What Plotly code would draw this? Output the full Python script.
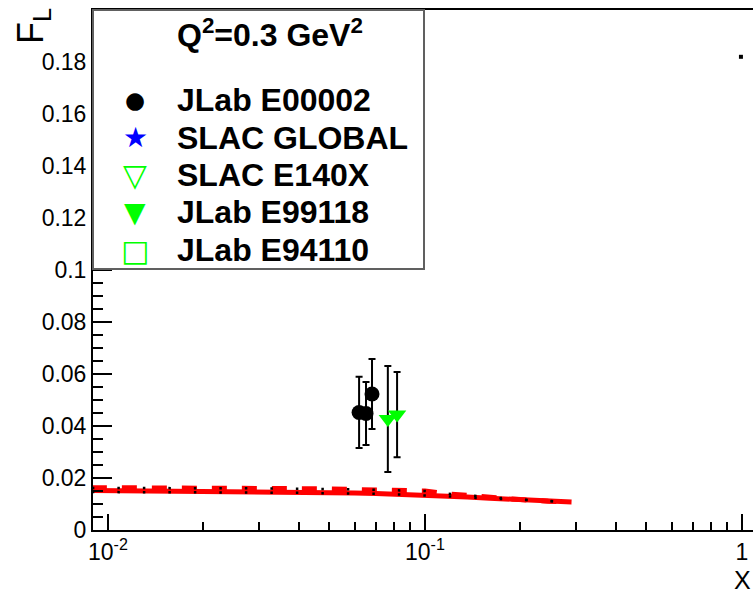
import plotly.graph_objects as go

# ---------------- data ----------------
# JLab E00002 (black filled circles)
e00002_x = [0.0620, 0.0652, 0.0681]
e00002_y = [0.0452, 0.0448, 0.0523]
e00002_err = [0.0137, 0.0121, 0.0135]

# JLab E99118 (green filled down-triangles)
e99118_x = [0.0764, 0.0817]
e99118_y = [0.0427, 0.0444]
e99118_err = [0.0204, 0.0164]

# stray tiny point near x=1
stray_x = [0.993]
stray_y = [0.182]

# model curves
curve_x = [0.0089, 0.012, 0.016, 0.02, 0.025, 0.03, 0.04, 0.05, 0.06, 0.07,
           0.08, 0.1, 0.115, 0.136, 0.16, 0.2, 0.245, 0.29]
curve_solid = [0.0152, 0.0151, 0.0150, 0.0149, 0.0148, 0.0147, 0.0146, 0.0144,
               0.0142, 0.0140, 0.0138, 0.0135, 0.0131, 0.0127, 0.0122, 0.0116,
               0.0111, 0.0108]
curve_dashed = [0.0163, 0.0163, 0.0162, 0.0162, 0.0161, 0.0161, 0.0159, 0.0158,
                0.0156, 0.0154, 0.0152, 0.0150, 0.0140, 0.0132, 0.0127, 0.0117,
                0.0111, 0.0108]
curve_dot_upper = [0.0162, 0.0162, 0.0161, 0.0161, 0.0160, 0.0160, 0.0159, 0.0158,
                   0.0157, 0.0155, 0.0153, 0.0150, 0.0141, 0.0133, 0.0127, 0.0117,
                   0.0111, 0.0108]
curve_dot_lower = [0.0146, 0.0146, 0.0145, 0.0145, 0.0144, 0.0144, 0.0143, 0.0142,
                   0.0141, 0.0139, 0.0137, 0.0134, 0.0130, 0.0125, 0.0121, 0.0115,
                   0.0111, 0.0108]

# legend entries
legend_names = ["JLab E00002", "SLAC GLOBAL", "SLAC E140X", "JLab E99118", "JLab E94110"]
legend_glyphs = ["\u25CF", "\u2605", "\u25BD", "\u25BC", "\u25A1"]
legend_colors = ["black", "#0000ff", "#00ff00", "#00ff00", "#00ff00"]
legend_glyph_sizes = [23, 28, 31, 28, 30]
legend_title = "Q<sup>2</sup>=0.3 GeV<sup>2</sup>"

# axis ticks
x_tick_vals = [0.01, 0.1, 1]
x_tick_text = ["10<sup>-2</sup>", "10<sup>-1</sup>", "1"]
x_minor_vals = [0.02, 0.03, 0.04, 0.05, 0.06, 0.07, 0.08, 0.09,
                0.2, 0.3, 0.4, 0.5, 0.6, 0.7, 0.8, 0.9]
y_tick_vals = [0, 0.02, 0.04, 0.06, 0.08, 0.1, 0.12, 0.14, 0.16, 0.18]
y_tick_text = ["0", "0.02", "0.04", "0.06", "0.08", "0.1", "0.12", "0.14", "0.16", "0.18"]

FONT = "Liberation Sans"
GREEN = "#00ff00"

W, H = 753, 595
ML, MR, MT, MB = 93, 0, 10, 65
PW, PH = W - ML - MR, H - MT - MB


def px_x(p):
    return (p - ML) / PW


def px_y(p):
    return 1 - (p - MT) / PH


fig = go.Figure()

# curves
fig.add_trace(go.Scatter(x=curve_x, y=curve_solid, mode="lines",
                         line=dict(color="#ff0000", width=5), showlegend=False))
fig.add_trace(go.Scatter(x=curve_x, y=curve_dashed, mode="lines",
                         line=dict(color="#ff0000", width=5, dash="15px,15px"),
                         showlegend=False))
fig.add_trace(go.Scatter(x=curve_x, y=curve_dot_upper, mode="lines",
                         line=dict(color="black", width=2.5, dash="2.5px,23px"),
                         showlegend=False))
fig.add_trace(go.Scatter(x=curve_x, y=curve_dot_lower, mode="lines",
                         line=dict(color="black", width=2.5, dash="2.5px,23px"),
                         showlegend=False))

# data sets
fig.add_trace(go.Scatter(
    x=e00002_x, y=e00002_y, mode="markers", name="JLab E00002", showlegend=False,
    marker=dict(symbol="circle", size=15, color="black"),
    error_y=dict(type="data", array=e00002_err, color="black", thickness=2, width=3.5)))
fig.add_trace(go.Scatter(
    x=e99118_x, y=e99118_y, mode="markers", name="JLab E99118", showlegend=False,
    marker=dict(symbol="triangle-down", size=16, color=GREEN),
    error_y=dict(type="data", array=e99118_err, color="black", thickness=2, width=3.5)))
fig.add_trace(go.Scatter(
    x=stray_x, y=stray_y, mode="markers", showlegend=False,
    marker=dict(symbol="square", size=4, color="black")))

# ---- legend box (layout decoration) ----
LEG_X0, LEG_X1, LEG_Y0, LEG_Y1 = 93, 424, 10, 269
ROW0, ROW_STEP = 100, 37.5
SYM_X, TEXT_X = 135, 175

shapes = [dict(type="rect", xref="paper", yref="paper", layer="above",
               x0=px_x(LEG_X0), x1=px_x(LEG_X1), y0=px_y(LEG_Y1), y1=px_y(LEG_Y0),
               fillcolor="white", line=dict(color="#606060", width=2))]

annotations = [
    dict(text="<b>" + legend_title + "</b>", xref="paper", yref="paper",
         x=px_x(270), y=px_y(33), xanchor="center", yanchor="middle", showarrow=False,
         font=dict(family=FONT, size=32, color="black")),
]
for i, (name, g, c, s) in enumerate(zip(legend_names, legend_glyphs, legend_colors,
                                         legend_glyph_sizes)):
    yc = ROW0 + i * ROW_STEP
    annotations.append(dict(text=g, xref="paper", yref="paper",
                            x=px_x(SYM_X), y=px_y(yc), xanchor="center", yanchor="middle",
                            showarrow=False, font=dict(family="DejaVu Sans", size=s, color=c)))
    annotations.append(dict(text="<b>" + name + "</b>", xref="paper", yref="paper",
                            x=px_x(TEXT_X), y=px_y(yc), xanchor="left", yanchor="middle",
                            showarrow=False, font=dict(family=FONT, size=32, color="black")))

annotations += [
    dict(text="F<sub>L</sub>", xref="paper", yref="paper", x=px_x(33), y=px_y(6),
         xanchor="center", yanchor="top", textangle=-90, showarrow=False,
         font=dict(family=FONT, size=36, color="black")),
    dict(text="X", xref="paper", yref="paper", x=px_x(752), y=px_y(565),
         xanchor="right", yanchor="top", showarrow=False, borderpad=0,
         font=dict(family=FONT, size=25, color="black")),
]

fig.update_layout(
    width=W, height=H,
    margin=dict(l=ML, r=MR, t=MT, b=MB, pad=0),
    paper_bgcolor="white", plot_bgcolor="white",
    font=dict(family=FONT, color="black"),
    showlegend=False,
    xaxis=dict(
        type="log", range=[-2.047, 0.035],
        showline=True, linecolor="black", linewidth=2, mirror=True,
        showgrid=False, zeroline=False,
        ticks="inside", ticklen=16, tickwidth=2, tickcolor="black",
        tickmode="array", tickvals=x_tick_vals, ticktext=x_tick_text,
        tickfont=dict(family=FONT, size=23, color="black"),
        minor=dict(tickmode="array", tickvals=x_minor_vals, ticks="inside",
                   ticklen=8, tickwidth=2, tickcolor="black", showgrid=False),
    ),
    yaxis=dict(
        range=[0, 0.2],
        showline=True, linecolor="black", linewidth=2,
        showgrid=False, zeroline=False,
        ticks="inside", ticklen=19, tickwidth=2, tickcolor="black",
        tickmode="array", tickvals=y_tick_vals, ticktext=y_tick_text,
        tickfont=dict(family=FONT, size=23, color="black"),
        minor=dict(tick0=0, dtick=0.005, ticks="inside",
                   ticklen=10, tickwidth=2, tickcolor="black", showgrid=False),
    ),
    shapes=shapes,
    annotations=annotations,
)

fig.write_html("out.html")
